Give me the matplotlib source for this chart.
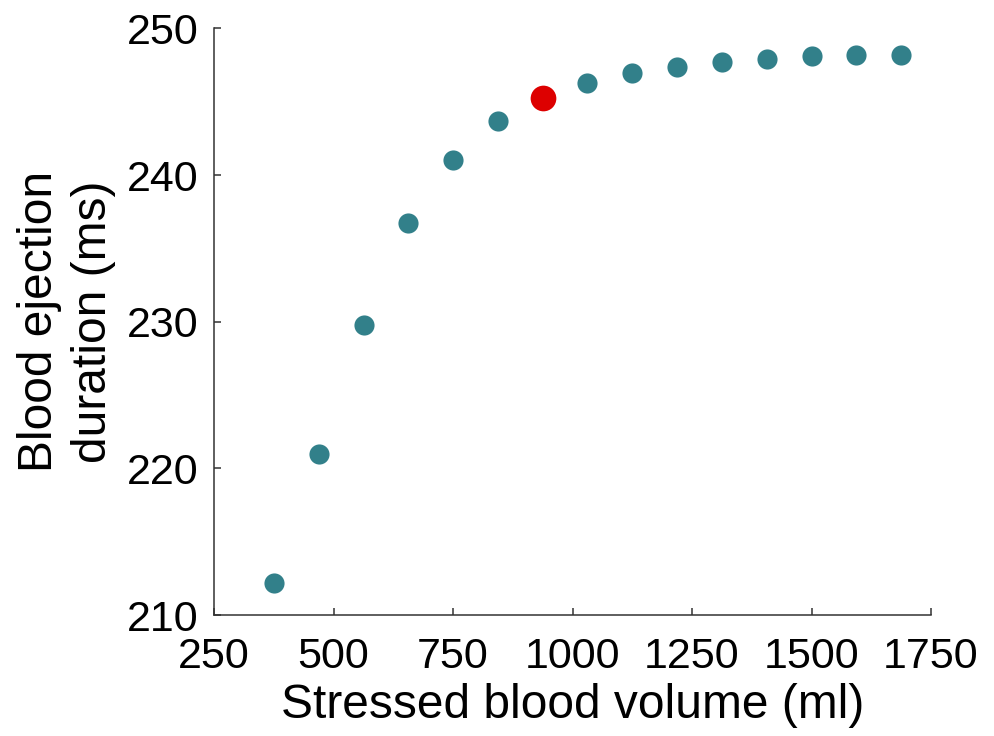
import matplotlib
matplotlib.use("Agg")
import matplotlib.pyplot as plt

plt.rcParams['font.family'] = ['Liberation Sans', 'DejaVu Sans']

volume = [375, 469, 563, 656, 750, 844, 938, 1031, 1125, 1219, 1313, 1406, 1500, 1594, 1688]
duration = [212.2, 221.0, 229.8, 236.7, 241.0, 243.7, 245.26, 246.24, 246.95, 247.36,
            247.68, 247.9, 248.08, 248.15, 248.15]
highlight_index = 6
x_ticks = [250, 500, 750, 1000, 1250, 1500, 1750]
y_ticks = [210, 220, 230, 240, 250]

fig = plt.figure(figsize=(9.95, 7.36), dpi=100)
ax = fig.add_axes([0.2151, 0.1644, 0.9357 - 0.2151, 0.9615 - 0.1644])

teal = '#32808a'
red = '#dd0000'
xs = [v for i, v in enumerate(volume) if i != highlight_index]
ys = [v for i, v in enumerate(duration) if i != highlight_index]
ax.plot(xs, ys, 'o', color=teal, markersize=14.5, markeredgewidth=0, clip_on=False)
ax.plot([volume[highlight_index]], [duration[highlight_index]], 'o', color=red,
        markersize=18.5, markeredgewidth=0, clip_on=False)

ax.set_xlim(250, 1750)
ax.set_ylim(210, 250)
ax.set_xticks(x_ticks)
ax.set_yticks(y_ticks)
for s in ['top', 'right']:
    ax.spines[s].set_visible(False)
for s in ['left', 'bottom']:
    ax.spines[s].set_color('#333333')
    ax.spines[s].set_linewidth(1.1)
ax.tick_params(direction='in', length=5, width=1.1, color='#333333', labelsize=31)
ax.tick_params(axis='x', pad=16)
ax.tick_params(axis='y', pad=11)
ax.set_xlabel('Stressed blood volume (ml)', fontsize=34.5, labelpad=4)
ax.set_ylabel('Blood ejection\nduration (ms)', fontsize=34.5, labelpad=8, linespacing=1.25)

fig.savefig('out.png', dpi=100)
